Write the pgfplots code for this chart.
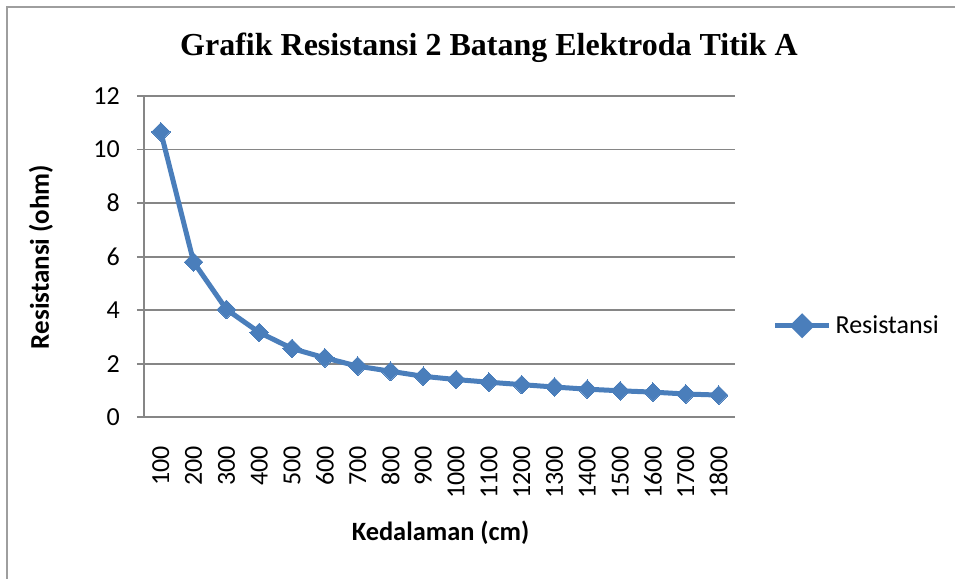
\documentclass[border=0pt]{standalone}
\usepackage{pgfplots}
\pgfplotsset{compat=1.18}
\usepackage{fontspec}
\setmainfont{Carlito}
\newfontfamily\titlefont{Liberation Serif}
\definecolor{exblue}{HTML}{4A7EBB}
\definecolor{exgrid}{HTML}{868686}
\begin{document}
\begin{tikzpicture}
\useasboundingbox (0,0) rectangle (477.5pt,289.5pt);
\draw[exgrid!80, line width=0.9pt] (3.5pt,0) -- (3.5pt,286pt) -- (477.5pt,286pt);
\begin{axis}[
  at={(72.2pt,80.85pt)}, anchor=south west,
  scale only axis, width=295.3pt, height=160.65pt,
  xmin=0.5, xmax=18.5, ymin=0, ymax=12,
  ytick={0,2,...,12},
  xtick={1,...,18},
  xticklabels={100,200,300,400,500,600,700,800,900,1000,1100,1200,1300,1400,1500,1600,1700,1800},
  axis x line*=bottom, axis y line*=left,
  axis line style={exgrid, line width=0.9pt, -},
  ymajorgrids, grid style={exgrid, line width=0.9pt},
  tick align=outside, major tick length=3.8pt,
  ytick style={exgrid, line width=0.9pt},
  xtick style={draw=none},
  ticklabel style={font=\fontsize{13}{15}\selectfont},
  /pgf/number format/assume math mode=true,
  xticklabel style={rotate=90, anchor=east, xshift=-7pt},
  yticklabel style={xshift=-5pt},
  legend style={at={(1.063,0.285)}, anchor=west, draw=none, fill=none,
    font=\fontsize{13}{15}\selectfont, inner sep=0pt},
  legend image code/.code={
    \draw[exblue, line width=2.5pt] (0pt,0pt) -- (27pt,0pt);
    \fill[exblue] (13.5pt,0pt) +(0,4.5pt) -- +(4.5pt,0) -- +(0,-4.5pt) -- +(-4.5pt,0) -- cycle;
  },
]
\addplot[exblue, line width=2.5pt, mark=square*, mark size=3.3pt,
  mark options={rotate=45, fill=exblue, draw=exblue, line width=0pt}]
coordinates {
(1,10.66) (2,5.80) (3,4.03) (4,3.17) (5,2.57) (6,2.22) (7,1.91) (8,1.72)
(9,1.53) (10,1.41) (11,1.31) (12,1.22) (13,1.13) (14,1.05) (15,0.99)
(16,0.94) (17,0.87) (18,0.83)
};
\addlegendentry{Resistansi}
\end{axis}
\node[font=\titlefont\bfseries\fontsize{16}{19}\selectfont, anchor=base] at (244.5pt,261.6pt) {Grafik Resistansi 2 Batang Elektroda Titik A};
\node[font=\bfseries\fontsize{13.2}{15}\selectfont] at (220.3pt,23pt) {Kedalaman (cm)};
\node[font=\bfseries\fontsize{13.5}{15}\selectfont, rotate=90] at (20.5pt,161pt) {Resistansi (ohm)};
\end{tikzpicture}
\end{document}
